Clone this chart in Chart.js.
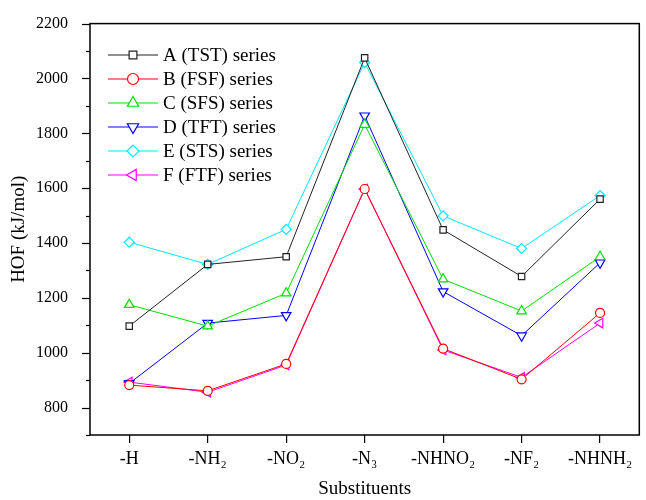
<!DOCTYPE html>
<html>
<head>
<meta charset="utf-8">
<script src="https://cdn.jsdelivr.net/npm/chart.js@4/dist/chart.umd.min.js"></script>
<style>
  body { margin: 0; background: #fff; }
  #wrap { width: 646px; height: 500px; }
</style>
</head>
<body>
<div id="wrap"><canvas id="hof"></canvas></div>
<script>
// substituent groups on the x axis
const substituents = ['-H', '-NH\u2082', '-NO\u2082', '-N\u2083', '-NHNO\u2082', '-NF\u2082', '-NHNH\u2082'];

// heats of formation, kJ/mol
const seriesA = [1097, 1322, 1350, 2075, 1448, 1278, 1560];
const seriesB = [882, 861, 959, 1597, 1015, 903, 1145];
const seriesC = [1175, 1097, 1217, 1832, 1268, 1152, 1350];
const seriesD = [888, 1108, 1136, 1864, 1223, 1062, 1328];
const seriesE = [1403, 1322, 1450, 2058, 1499, 1380, 1573];
const seriesF = [893, 856, 955, 1597, 1010, 910, 1108];

const yTicks = [800, 1000, 1200, 1400, 1600, 1800, 2000, 2200];

const serif = "'Liberation Serif', 'Times New Roman', serif";

function series(label, data, color, style, rot, r) {
  return {
    label: label,
    data: data,
    borderColor: color,
    borderWidth: 1,
    pointStyle: style,
    pointRotation: rot,
    pointRadius: r,
    pointBorderColor: color,
    pointBackgroundColor: 'rgba(255,255,255,1)',
    pointBorderWidth: 1.2,
    tension: 0
  };
}

// frame around plot + custom line/marker legend + minor ticks
const extras = {
  id: 'extras',
  afterDraw(chart) {
    const ctx = chart.ctx;
    const a = chart.chartArea;
    ctx.save();
    ctx.strokeStyle = '#000';
    ctx.lineWidth = 1.5;
    ctx.strokeRect(a.left, a.top, a.right - a.left, a.bottom - a.top);

    // major + minor ticks on y
    const y = chart.scales.y;
    ctx.lineWidth = 1.2;
    for (let v = 700; v <= 2200; v += 100) {
      const py = Math.round(y.getPixelForValue(v)) + 0.5;
      const len = (v % 200 === 0) ? 8 : 4;
      ctx.beginPath();
      ctx.moveTo(a.left - len, py);
      ctx.lineTo(a.left, py);
      ctx.stroke();
    }

    // legend
    const x0 = 108, x1 = 158, top = 55, step = 24;
    ctx.font = '19px ' + serif;
    ctx.textBaseline = 'middle';
    ctx.textAlign = 'left';
    chart.data.datasets.forEach((ds, i) => {
      const py = top + i * step;
      ctx.strokeStyle = ds.borderColor;
      ctx.lineWidth = 1;
      ctx.beginPath();
      ctx.moveTo(x0, py);
      ctx.lineTo(x1, py);
      ctx.stroke();
      ctx.fillStyle = '#fff';
      ctx.lineWidth = 1.2;
      Chart.helpers.drawPoint(ctx, {
        pointStyle: ds.pointStyle,
        rotation: ds.pointRotation,
        radius: ds.pointRadius + 1,
        borderWidth: 1.2
      }, (x0 + x1) / 2, py);
      ctx.fillStyle = '#000';
      ctx.fillText(ds.label, x1 + 5, py + 1);
    });
    ctx.restore();
  }
};

new Chart(document.getElementById('hof'), {
  type: 'line',
  data: {
    labels: substituents,
    datasets: [
      series('A (TST) series', seriesA, '#222222', 'rect', 0, 4.5),
      series('B (FSF) series', seriesB, '#ff0000', 'circle', 0, 4.5),
      series('C (SFS) series', seriesC, '#00e000', 'triangle', 0, 5.5),
      series('D (TFT) series', seriesD, '#0000ff', 'triangle', 180, 5.5),
      series('E (STS) series', seriesE, '#00e8ff', 'rectRot', 0, 5),
      series('F (FTF) series', seriesF, '#ff00ff', 'triangle', -90, 5.5)
    ]
  },
  plugins: [extras],
  options: {
    responsive: true,
    maintainAspectRatio: false,
    animation: false,
    layout: { padding: { top: 20, right: 2, left: 0, bottom: 0 } },
    plugins: {
      legend: { display: false },
      tooltip: { enabled: false }
    },
    scales: {
      x: {
        offset: true,
        grid: { display: true, drawOnChartArea: false, tickLength: 8, color: '#000', lineWidth: 1.2, offset: false },
        border: { display: false },
        ticks: { color: '#000', font: { family: serif, size: 18 }, padding: 5, maxRotation: 0 },
        title: { display: true, text: 'Substituents', color: '#000', font: { family: serif, size: 19 }, padding: { top: 3, bottom: 0 } },
        afterFit: s => { s.height = 65; }
      },
      y: {
        min: 700,
        max: 2200,
        afterBuildTicks: s => {
          s.ticks = yTicks.map(v => ({ value: v }));
        },
        grid: { display: false },
        border: { display: false },
        ticks: { color: '#000', font: { family: serif, size: 16 }, padding: 14, callback: v => String(v) },
        title: { display: true, text: 'HOF (kJ/mol)', color: '#000', font: { family: serif, size: 19 }, padding: { top: 8, bottom: 0 } },
        afterFit: s => { s.width = 90; }
      }
    }
  }
});
</script>
</body>
</html>
